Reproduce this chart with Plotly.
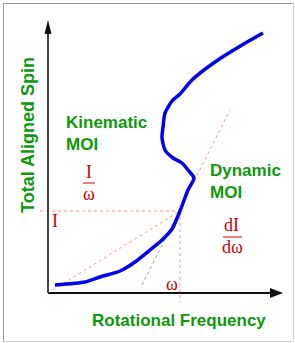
import plotly.graph_objects as go

# Curve: rotational frequency (omega) vs total aligned spin (I), arbitrary units
omega = [0.28, 1.48, 2.08, 2.88, 3.48, 4.08, 4.56, 4.96, 5.28, 5.6, 5.84, 5.6, 5.36,
         5.0, 4.68, 4.56, 4.6, 4.68, 4.96, 5.28, 5.76, 6.68, 7.76, 8.6]
spin = [0.32, 0.44, 0.64, 0.88, 1.24, 1.72, 2.12, 2.56, 3.28, 4.12, 4.6, 4.92, 5.2,
        5.4, 5.72, 6.2, 6.64, 7.2, 7.68, 7.96, 8.52, 9.24, 9.92, 10.4]

# working point
omega0 = 5.28
spin0 = 3.28

# kinematic chord (origin -> working point)
chord_x = [0.2, omega0]
chord_y = [0.124, spin0]
# dynamic tangent (lower grey part, upper pink part)
tan_low_x = [3.76, 5.1]
tan_low_y = [0.32, 2.98]
tan_up_x = [5.1, 7.28]
tan_up_y = [2.98, 7.32]

GREEN = "#0c9a0c"
RED = "#cc0000"
PINK = "rgba(255,110,110,0.75)"
SANS = "Liberation Sans, Arial, sans-serif"
SERIF = "Liberation Serif, Times New Roman, serif"

S = 25.0  # px per unit
X0, Y0 = 48.0, 293.0  # origin pixel
W, H = 295, 343
xr = [-X0 / S, (W - X0) / S]
yr = [(Y0 - H) / S, Y0 / S]

fig = go.Figure()

# guide lines
fig.add_trace(go.Scatter(x=[-0.32, omega0], y=[spin0, spin0], mode="lines",
                         line=dict(color=PINK, width=1, dash="3px,3px"), hoverinfo="skip"))
fig.add_trace(go.Scatter(x=[omega0, omega0], y=[spin0, -0.36], mode="lines",
                         line=dict(color=PINK, width=1, dash="3px,3px"), hoverinfo="skip"))
fig.add_trace(go.Scatter(x=chord_x, y=chord_y, mode="lines",
                         line=dict(color=PINK, width=1, dash="3px,3px"), hoverinfo="skip"))
fig.add_trace(go.Scatter(x=tan_low_x, y=tan_low_y, mode="lines",
                         line=dict(color="#999999", width=1, dash="3px,3px"), hoverinfo="skip"))
fig.add_trace(go.Scatter(x=tan_up_x, y=tan_up_y, mode="lines",
                         line=dict(color=PINK, width=1, dash="3px,3px"), hoverinfo="skip"))

# main curve
fig.add_trace(go.Scatter(x=omega, y=spin, mode="lines",
                         line=dict(color="#0000ee", width=3.5, shape="spline", smoothing=0.6),
                         hoverinfo="skip"))

shapes = []
# axes
shapes.append(dict(type="line", xref="x", yref="y", x0=0, y0=0, x1=(270 - X0) / S, y1=0,
                   line=dict(color="#111111", width=2)))
shapes.append(dict(type="path", xref="x", yref="y",
                   path=f"M {(270 - X0) / S} {5 / S} L {(283 - X0) / S} 0 L {(270 - X0) / S} {-5 / S} Z",
                   fillcolor="#111111", line=dict(width=0)))
shapes.append(dict(type="line", xref="x", yref="y", x0=0, y0=0, x1=0, y1=(Y0 - 33) / S,
                   line=dict(color="#444444", width=2)))
shapes.append(dict(type="path", xref="x", yref="y",
                   path=f"M {-3.5 / S} {(Y0 - 34) / S} L 0 {(Y0 - 20) / S} L {3.5 / S} {(Y0 - 34) / S} Z",
                   fillcolor="#111111", line=dict(width=0)))
# fraction bars
shapes.append(dict(type="line", xref="x", yref="y", x0=(83 - X0) / S, x1=(95 - X0) / S,
                   y0=(Y0 - 183) / S, y1=(Y0 - 183) / S, line=dict(color=RED, width=1)))
shapes.append(dict(type="line", xref="x", yref="y", x0=(223 - X0) / S, x1=(242 - X0) / S,
                   y0=(Y0 - 237) / S, y1=(Y0 - 237) / S, line=dict(color=RED, width=1)))
# frame
def px(x):
    return x / W
def py(y):
    return 1 - y / H
shapes.append(dict(type="line", xref="paper", yref="paper", x0=px(3), x1=px(293), y0=py(3.5), y1=py(3.5),
                   line=dict(color="#999999", width=1)))
shapes.append(dict(type="line", xref="paper", yref="paper", x0=px(3.5), x1=px(3.5), y0=py(3), y1=py(341),
                   line=dict(color="#999999", width=1)))
shapes.append(dict(type="line", xref="paper", yref="paper", x0=px(293.5), x1=px(293.5), y0=py(3), y1=py(341),
                   line=dict(color="#cccccc", width=1)))
shapes.append(dict(type="line", xref="paper", yref="paper", x0=px(3), x1=px(293), y0=py(341.5), y1=py(341.5),
                   line=dict(color="#cccccc", width=1)))

ann = []
def A(text, x, y, font, color, xa="center", ya="middle", angle=0, align="center"):
    ann.append(dict(text=text, x=(x - X0) / S, y=(Y0 - y) / S, xref="x", yref="y",
                    showarrow=False, xanchor=xa, yanchor=ya, textangle=angle, align=align,
                    font=dict(family=font[0], size=font[1], color=color)))

A("<b>Total Aligned Spin</b>", 28, 135, (SANS, 18), GREEN, angle=-90)
A("<b>Rotational Frequency</b>", 179, 320, (SANS, 17), GREEN)
A("<b>Kinematic<br>MOI</b>", 64, 133, (SANS, 17), GREEN, xa="left", align="left")
A("<b>Dynamic<br>MOI</b>", 208, 181, (SANS, 17), GREEN, xa="left", align="left")
A("I", 89, 172, (SERIF, 18), RED)
A("ω", 89, 194, (SERIF, 18), RED)
A("I", 55, 221, (SERIF, 18), RED)
A("ω", 172, 284, (SERIF, 18), RED)
A("dI", 231, 225, (SERIF, 18), RED)
A("dω", 232, 247, (SERIF, 18), RED)

fig.update_layout(
    width=W, height=H, autosize=False,
    margin=dict(l=0, r=0, t=0, b=0, pad=0),
    paper_bgcolor="white", plot_bgcolor="white",
    showlegend=False,
    xaxis=dict(range=xr, visible=False, fixedrange=True),
    yaxis=dict(range=yr, visible=False, fixedrange=True),
    shapes=shapes, annotations=ann,
)

fig.write_html("out.html", config={"displayModeBar": False},
               post_script="document.body.style.margin='0';document.body.style.overflow='hidden';")
